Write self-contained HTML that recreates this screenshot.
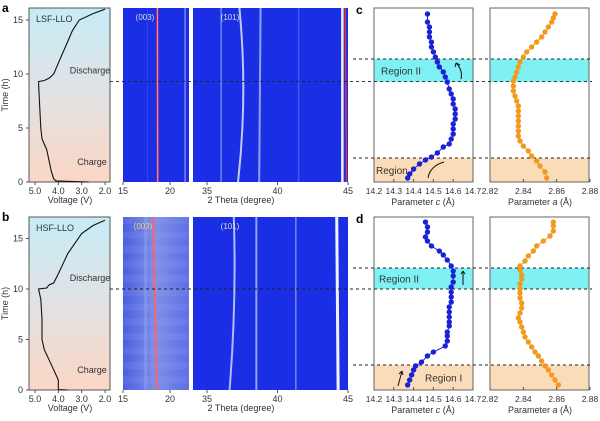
<!DOCTYPE html>
<html><head><meta charset="utf-8"><style>
body{margin:0;background:#fff;width:600px;height:416px;overflow:hidden}
svg{font-family:"Liberation Sans",Arial,sans-serif}
</style></head><body>
<svg id="fig" width="600" height="416" viewBox="0 0 600 416" xmlns="http://www.w3.org/2000/svg">
<defs>
<linearGradient id="vg" x1="0" y1="0" x2="0" y2="1">
<stop offset="0" stop-color="#c6ecf6"/><stop offset="0.45" stop-color="#dfe3e6"/><stop offset="1" stop-color="#fbd6c4"/></linearGradient>
<linearGradient id="hb" x1="0" y1="0" x2="1" y2="0">
<stop offset="0" stop-color="#4a5fe0"/><stop offset="0.5" stop-color="#7d8fe8"/><stop offset="1" stop-color="#5d6fe4"/></linearGradient>
</defs>
<g id="root"></g>
</svg>
<script>
// ---- data ----
const voltA_V=[2.7,4.1,4.2,4.3,4.4,4.5,4.7,4.75,4.8,4.85,4.6,4.4,4.2,4.0,3.8,3.6,3.4,3.1,2.5,2.0];
const voltA_t=[0,0.1,0.3,1,2,3,4,5,7,9.3,9.4,9.6,10,11,12,13,14,15,15.6,16];
const voltB_V=[3.6,4.0,4.0,4.2,4.4,4.6,4.7,4.7,4.75,4.85,4.5,4.4,4.2,4.0,3.8,3.6,3.3,3.0,2.5,2.0];
const voltB_t=[0,0.05,1,2,3,4,5,7,9,10,10.1,10.4,10.6,11.5,12.5,13.5,14.5,15.5,16.3,16.8];
const cA_val=[14.37,14.38,14.40,14.43,14.46,14.49,14.52,14.55,14.58,14.59,14.6,14.6,14.6,14.61,14.61,14.61,14.6,14.6,14.59,14.58,14.57,14.56,14.55,14.53,14.52,14.51,14.50,14.49,14.49,14.48,14.48,14.48,14.47,14.47];
const cA_t=[0.37,0.74,1.2,1.67,2.04,2.31,2.69,3.24,3.52,3.98,4.44,4.91,5.37,5.83,6.3,6.76,7.22,7.69,8.15,8.61,9.26,9.72,10.19,10.65,11.11,11.57,12.04,12.5,12.96,13.43,13.89,14.35,14.81,15.56];
const aA_val=[2.854,2.853,2.850,2.848,2.845,2.843,2.840,2.838,2.837,2.837,2.837,2.837,2.837,2.837,2.837,2.836,2.835,2.834,2.834,2.834,2.835,2.836,2.837,2.838,2.840,2.842,2.845,2.848,2.851,2.853,2.855,2.857,2.858,2.859];
const aA_t=[0.37,0.93,1.48,1.94,2.41,2.87,3.33,3.8,4.26,4.72,5.19,5.65,6.11,6.57,7.04,7.5,7.96,8.43,8.89,9.35,9.72,10.19,10.65,11.11,11.57,12.04,12.5,12.96,13.43,13.89,14.35,14.81,15.19,15.56];
const cB_val=[14.37,14.38,14.39,14.40,14.41,14.44,14.47,14.50,14.56,14.57,14.57,14.57,14.58,14.58,14.58,14.58,14.58,14.59,14.59,14.59,14.59,14.60,14.60,14.60,14.59,14.57,14.55,14.53,14.49,14.47,14.46,14.47,14.47,14.46];
const cB_t=[0.5,0.99,1.49,1.98,2.38,2.77,3.37,3.76,4.36,4.85,5.35,5.74,6.34,6.73,7.23,7.72,8.22,8.71,9.21,9.7,10.2,10.69,11.29,11.78,12.28,12.87,13.37,13.76,14.26,14.75,15.15,15.64,16.14,16.63];
const aB_val=[2.861,2.859,2.857,2.855,2.853,2.851,2.849,2.847,2.845,2.843,2.841,2.840,2.839,2.838,2.837,2.838,2.839,2.839,2.838,2.838,2.838,2.838,2.839,2.839,2.838,2.838,2.841,2.843,2.846,2.848,2.852,2.856,2.858,2.858,2.858];
const aB_t=[0.5,0.99,1.49,1.98,2.38,2.87,3.37,3.76,4.26,4.75,5.25,5.74,6.24,6.73,7.13,7.62,8.12,8.61,9.11,9.6,10,10.5,10.99,11.39,11.88,12.28,12.77,13.27,13.76,14.26,14.75,15.25,15.74,16.24,16.63];
const timeTicks=[0,5,10,15];
const voltTicks=[5.0,4.0,3.0,2.0];
const cTicks=[14.2,14.3,14.4,14.5,14.6,14.7];
const aTicks=[2.82,2.84,2.86,2.88];
const thetaTicksL=[15,20];
const thetaTicksR=[35,40,45];

const NS="http://www.w3.org/2000/svg";
const root=document.getElementById('root');
function el(tag,attrs,parent,text){const e=document.createElementNS(NS,tag);for(const k in attrs)e.setAttribute(k,attrs[k]);if(text!==undefined)e.textContent=text;(parent||root).appendChild(e);return e;}
function txt(x,y,s,size,anchor,name,extra){const t=el('text',Object.assign({x:x,y:y,'font-size':size,'text-anchor':anchor||'middle',fill:'#333'},extra||{}),root,s);

return t;}

function drawRow(r){
  const top=r.top,bot=r.bot,pph=r.pph;
  const ty=t=>bot-t*pph;
  const vx=v=>35+(5.0-v)*(70/3);
  const vp=el('rect',{x:29,y:top,width:81,height:bot-top,fill:'url(#vg)',stroke:'#555','stroke-width':1});
  
  
  let d='';r.vV.forEach((v,i)=>{d+=(i?'L':'M')+vx(v).toFixed(1)+','+ty(r.vT[i]).toFixed(1);});
  const vl=el('path',{d:d,fill:'none',stroke:'#111','stroke-width':1.1});
  
  
  timeTicks.forEach(t=>{el('line',{x1:29,x2:26,y1:ty(t),y2:ty(t),stroke:'#555'});
    txt(23,ty(t)+3,String(t),9,'end',r.p+'-time-tick');});
  voltTicks.forEach(v=>{el('line',{x1:vx(v),x2:vx(v),y1:bot,y2:bot+3,stroke:'#555'});
    txt(vx(v),bot+12,v.toFixed(1),9,'middle',r.p+'-voltage-tick');});
  txt(70,bot+21,'Voltage (V)',9,'middle',r.p+'-voltage-axis-title');
  txt(8,(top+bot)/2,'Time (h)',9,'middle',r.p+'-time-axis-title',{transform:'rotate(-90 8 '+((top+bot)/2)+')'});
  txt(36,top+14,r.name,9,'start',r.p+'-sample-label');
  txt(90,ty(r.split)-8,'Discharge',9,'middle',r.p+'-discharge-label');
  txt(92,bot-17,'Charge',9,'middle',r.p+'-charge-label');
  txt(2,top+4,r.p,12,'start',r.p+'-panel-letter',{'font-weight':'bold',fill:'#000'});
  const hx1=t=>123+(t-15)*9.4;
  const hx2=t=>207+(t-35)*14.1;
  const h1=el('rect',{x:123,y:top,width:66,height:bot-top,fill:r.h1fill});
  
  
  const h2=el('rect',{x:193,y:top,width:155,height:bot-top,fill:'#1a2ee6'});
  
  
  if(r.p==='b'){for(let i=0;i<12;i++){el('rect',{x:123,y:top+i*14.5,width:66,height:7,fill:'#a9b6f0',opacity:0.12});}}
  r.lines1.forEach(L=>el('line',{x1:hx1(L[0]),x2:hx1(L[1]),y1:bot,y2:top,stroke:L[2],'stroke-width':L[3],opacity:L[4]}));
  r.lines2.forEach(L=>{const xb=hx2(L[0]),xt=hx2(L[1]),xm=hx2(L[5]||((L[0]+L[1])/2));
    el('path',{d:`M${xb},${bot} Q${xm},${(top+bot)/2} ${xt},${top}`,fill:'none',stroke:L[2],'stroke-width':L[3],opacity:L[4]});});
  thetaTicksL.forEach(t=>{el('line',{x1:hx1(t),x2:hx1(t),y1:bot,y2:bot+3,stroke:'#555'});txt(hx1(t),bot+12,String(t),9,'middle',r.p+'-theta-tick');});
  thetaTicksR.forEach(t=>{el('line',{x1:hx2(t),x2:hx2(t),y1:bot,y2:bot+3,stroke:'#555'});txt(hx2(t),bot+12,String(t),9,'middle',r.p+'-theta-tick');});
  txt(241,bot+21,'2 Theta (degree)',9,'middle',r.p+'-theta-axis-title');
  txt(r.p==='a'?145:143,top+12,'(003)',8,'middle',r.p+'-label-003',{fill:r.p==='a'?'#ddd':'#e8d27a'});
  txt(230,top+12,'(101)',8,'middle',r.p+'-label-101',{fill:'#ddd'});
  const cx=v=>374+(v-14.2)*198;
  const ax=v=>490+(v-2.82)*1666.7;
  [[374,'param-c'],[490,'param-a']].forEach(([x0,nm])=>{
    el('rect',{x:x0,y:r.reg1[0],width:99,height:r.reg1[1]-r.reg1[0],fill:'#fbdcb8'});
    el('rect',{x:x0,y:r.reg2[0],width:99,height:r.reg2[1]-r.reg2[0],fill:'#7ff0f4'});
    const b=el('rect',{x:x0,y:top,width:99,height:bot-top,fill:'none',stroke:'#666','stroke-width':1});
    
    
  });
  [r.reg1[0],r.reg2[0]].forEach(y=>el('line',{x1:353,x2:592,y1:y,y2:y,stroke:'#222','stroke-dasharray':'3,3','stroke-width':0.9}));
  el('line',{x1:110,x2:592,y1:ty(r.split),y2:ty(r.split),stroke:'#222','stroke-dasharray':'3,3','stroke-width':0.9});
  txt(r.r2x,(r.reg2[0]+r.reg2[1])/2+4,'Region II',10,'start',r.p2+'-region2-label');
  txt(r.r1x,(r.reg1[0]+r.reg1[1])/2+4,'Region I',10,'start',r.p2+'-region1-label');
  function series(vals,ts,fx,col,nm){
    let p='';vals.forEach((v,i)=>{p+=(i?'L':'M')+fx(v).toFixed(1)+','+ty(ts[i]).toFixed(1);});
    const l=el('path',{d:p,fill:'none',stroke:col,'stroke-width':1});
    
    
    vals.forEach((v,i)=>{const c=el('circle',{cx:fx(v),cy:ty(ts[i]),r:2.7,fill:col});
      
      });
  }
  series(r.cV,r.cT,cx,'#1a22d8',r.p2+'-param-c');
  series(r.aV,r.aT,ax,'#f29a1e',r.p2+'-param-a');
  cTicks.forEach(v=>{el('line',{x1:cx(v),x2:cx(v),y1:bot,y2:bot-3,stroke:'#555'});txt(cx(v),bot+12,v.toFixed(1),8.5,'middle',r.p2+'-c-tick');});
  aTicks.forEach(v=>{el('line',{x1:ax(v),x2:ax(v),y1:bot,y2:bot-3,stroke:'#555'});txt(ax(v),bot+12,v.toFixed(2),8.5,'middle',r.p2+'-a-tick');});
  const tc=txt(423,bot+23,'',9,'middle',r.p2+'-c-axis-title');tc.innerHTML='Parameter <tspan font-style="italic">c</tspan> (Å)';
  const ta=txt(540,bot+23,'',9,'middle',r.p2+'-a-axis-title');ta.innerHTML='Parameter <tspan font-style="italic">a</tspan> (Å)';
  txt(356,top+6,r.p2,12,'start',r.p2+'-panel-letter',{'font-weight':'bold',fill:'#000'});
  r.arrows.forEach(a=>{el('path',{d:a,fill:'none',stroke:'#111','stroke-width':1});});
}
drawRow({p:'a',p2:'c',top:8,bot:182,pph:10.8,split:9.3,name:'LSF-LLO',vV:voltA_V,vT:voltA_t,
 h1fill:'#1a2ee6',lines1:[[18.7,18.65,'#e83a5a',2,1],[18.7,18.65,'#ffb0c0',0.6,1],[21.6,21.6,'#8a9af0',1.5,0.8],[17.6,17.6,'#4055ea',1,0.6]],
 lines2:[[36,36,'#7d8ff0',1.5,0.9],[37.2,37.3,'#c0caf8',2,1,37.9],[38.7,38.8,'#8fa0f2',2,1],[41.5,41.5,'#4f62ec',1.5,0.8],[44.6,44.6,'#f0f0ff',2.5,1],[44.9,44.8,'#e83030',1.5,1]],
 cV:cA_val,cT:cA_t,aV:aA_val,aT:aA_t,reg1:[158,182],reg2:[59,82],r2x:381,r1x:376,
 arrows:['M428,178 Q430,166 444,162','M461,79 Q463,70 456,63','M456,63 l-1,4 M456,63 l4,2']});
drawRow({p:'b',p2:'d',top:217,bot:390,pph:10.1,split:10,name:'HSF-LLO',vV:voltB_V,vT:voltB_t,
 h1fill:'url(#hb)',lines1:[[18.6,18.2,'#e86a80',2.5,1],[17.4,17.4,'#9aa8f0',3,0.4]],
 lines2:[[36.6,36.9,'#b0bcf6',2,1,37.1],[38.5,38.5,'#a0aef4',2,0.9],[41.3,41.3,'#8a9af0',1.5,0.8],[44.3,44.2,'#f0f2ff',3,1]],
 cV:cB_val,cT:cB_t,aV:aB_val,aT:aB_t,reg1:[365,390],reg2:[268,289],r2x:379,r1x:425,
 arrows:['M398,386 L402,371 M402,371 l-3,3 M402,371 l1,4','M463,285 L463,271 M463,271 l-2,3 M463,271 l2,3']});
</script>
</body></html>
